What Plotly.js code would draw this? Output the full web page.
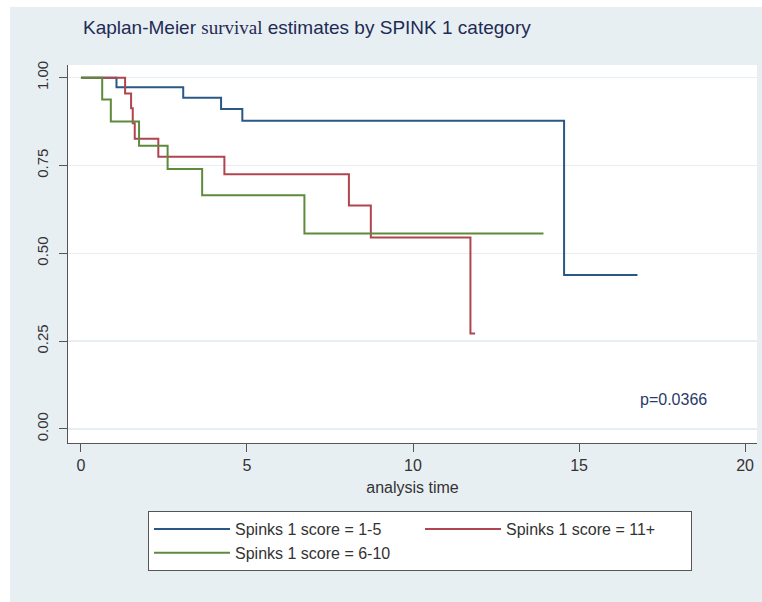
<!DOCTYPE html>
<html>
<head>
<meta charset="utf-8">
<script src="https://cdn.plot.ly/plotly-3.0.1.min.js"></script>
<style>html,body{margin:0;padding:0;background:#ffffff;}#chart{width:762px;height:602px;}</style>
</head>
<body>
<div id="chart"></div>
<script>
// Kaplan-Meier step data
const groupNames = ["Spinks 1 score = 1-5", "Spinks 1 score = 11+", "Spinks 1 score = 6-10"];

const timeLow  = [0, 1.07, 3.08, 4.22, 4.86, 14.55, 16.76];
const survLow  = [1, 0.973, 0.943, 0.911, 0.877, 0.438, 0.438];

const timeHigh = [0, 1.33, 1.51, 1.56, 1.62, 2.33, 4.32, 8.07, 8.73, 11.73, 11.87];
const survHigh = [1, 0.955, 0.913, 0.870, 0.826, 0.775, 0.725, 0.636, 0.545, 0.272, 0.272];

const timeMid  = [0, 0.64, 0.90, 1.75, 2.61, 3.65, 6.73, 13.93];
const survMid  = [1, 0.9375, 0.875, 0.806, 0.740, 0.665, 0.556, 0.556];

const xTicks = [0, 5, 10, 15, 20];
const yTicks = [0, 0.25, 0.5, 0.75, 1];
const yTickText = ["0.00", "0.25", "0.50", "0.75", "1.00"];
const pValueText = "p=0.0366";
const pValuePos = [17.86, 0.083];

const colors = ["#2a5886", "#b0444f", "#5e8a3c"];
const FONT = "Liberation Sans, Arial, sans-serif";

function km(x, y, name, color) {
  return {
    x: x, y: y, name: name, type: "scatter", mode: "lines",
    line: {shape: "hv", color: color, width: 2},
    hoverinfo: "skip"
  };
}

const data = [
  km(timeLow, survLow, groupNames[0], colors[0]),
  km(timeHigh, survHigh, groupNames[1], colors[1]),
  km(timeMid, survMid, groupNames[2], colors[2])
];

const W = 762, H = 602, L = 68, R = 5, T = 65, B = 159;
const pw = W - L - R, ph = H - T - B;
function px(xp) { return (xp - L) / pw; }
function py(yp) { return (H - B - yp) / ph; }

const bg = "#e8eff3";

const layout = {
  width: W, height: H,
  margin: {l: L, r: R, t: T, b: B, pad: 0},
  paper_bgcolor: bg,
  plot_bgcolor: "#ffffff",
  font: {family: FONT, size: 15, color: "#333333"},
  title: {
    text: "Kaplan-Meier <span style=\"font-family:'Liberation Serif', 'Times New Roman', serif\">survival</span> estimates by SPINK 1 category",
    font: {family: FONT, size: 19, color: "#1e2b55"},
    x: 83 / W, xref: "container", xanchor: "left",
    y: 1 - 27 / H, yref: "container", yanchor: "middle"
  },
  xaxis: {
    range: [-0.39, 20.36],
    tickvals: xTicks,
    ticks: "outside", ticklen: 8, tickcolor: "#555555", tickwidth: 1,
    showline: true, linecolor: "#555555", linewidth: 1,
    showgrid: false, zeroline: false,
    tickfont: {family: FONT, size: 16, color: "#333333"},
    title: {text: "analysis time", font: {family: FONT, size: 16, color: "#333333"}, standoff: 8}
  },
  yaxis: {
    range: [-0.04, 1.036],
    tickvals: yTicks, ticktext: yTickText,
    tickangle: -90,
    ticks: "outside", ticklen: 8, tickcolor: "#555555", tickwidth: 1,
    ticklabelstandoff: 5,
    showline: true, linecolor: "#555555", linewidth: 1,
    showgrid: true, gridcolor: "#e6eef2", gridwidth: 1.5,
    zeroline: false,
    tickfont: {family: FONT, size: 15, color: "#333333"}
  },
  showlegend: true,
  legend: {
    orientation: "h",
    x: px(148), xanchor: "left",
    y: py(511), yanchor: "top",
    bgcolor: "#ffffff", bordercolor: "#555555", borderwidth: 1,
    font: {family: FONT, size: 16, color: "#333333"},
    entrywidth: 180, entrywidthmode: "pixels",
    itemwidth: 76,
    traceorder: "normal"
  },
  annotations: [{
    x: pValuePos[0], y: pValuePos[1], xref: "x", yref: "y",
    text: pValueText, showarrow: false,
    font: {family: FONT, size: 16, color: "#2a3a6a"},
    xanchor: "center", yanchor: "middle"
  }],
  shapes: [
    {type: "rect", xref: "paper", yref: "paper", layer: "below",
     x0: px(0), x1: px(10), y0: py(H), y1: py(0),
     fillcolor: "#ffffff", line: {width: 0}},
    {type: "rect", xref: "paper", yref: "paper", layer: "below",
     x0: px(0), x1: px(W), y0: py(7), y1: py(0),
     fillcolor: "#ffffff", line: {width: 0}}
  ]
};

Plotly.newPlot("chart", data, layout, {displayModeBar: false, staticPlot: true});
</script>
</body>
</html>
